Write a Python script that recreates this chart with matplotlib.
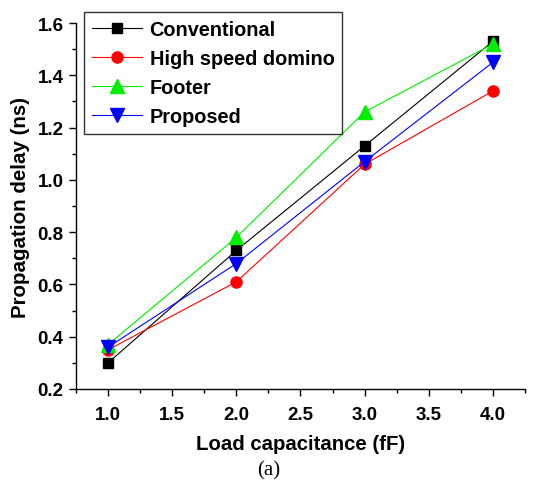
import matplotlib
matplotlib.use("Agg")
import matplotlib.pyplot as plt
from matplotlib.ticker import MultipleLocator

plt.rcParams['font.family'] = ['Liberation Sans', 'DejaVu Sans']

load = [1.0, 2.0, 3.0, 4.0]
conventional = [0.30, 0.73, 1.13, 1.53]
high_speed = [0.35, 0.61, 1.06, 1.34]
footer = [0.37, 0.78, 1.26, 1.52]
proposed = [0.36, 0.68, 1.07, 1.45]

fig = plt.figure(figsize=(5.38, 4.81), dpi=100)
ax = fig.add_axes([0.1413, 0.1892, 0.8345, 0.7608])

lw = 0.8
ax.plot(load, conventional, color='black', marker='s', ms=7, lw=lw, label='Conventional')
ax.plot(load, high_speed, color='red', marker='o', ms=8, lw=lw, label='High speed domino')
ax.plot(load, footer, color='#00ee00', marker='^', ms=10, lw=lw, label='Footer')
ax.plot(load, proposed, color='blue', marker='v', ms=10, lw=lw, label='Proposed')

ax.set_xlim(0.75, 4.25)
ax.set_ylim(0.2, 1.6)
ax.xaxis.set_major_locator(MultipleLocator(0.5))
ax.xaxis.set_minor_locator(MultipleLocator(0.25))
ax.yaxis.set_major_locator(MultipleLocator(0.2))
ax.yaxis.set_minor_locator(MultipleLocator(0.1))
ax.spines['top'].set_visible(False)
ax.spines['right'].set_visible(False)
for s in ['left', 'bottom']:
    ax.spines[s].set_linewidth(1.0)
ax.tick_params(which='major', direction='out', length=5, width=1, labelsize=13.5, pad=4)
ax.tick_params(axis='x', which='major', pad=7)
ax.tick_params(which='minor', direction='out', length=3, width=1)
for lab in ax.get_xticklabels() + ax.get_yticklabels():
    lab.set_fontweight('bold')

ax.set_xlabel('Load capacitance (fF)', fontsize=14.7, fontweight='bold', labelpad=8)
ax.set_ylabel('Propagation delay (ns)', fontsize=14.8, fontweight='bold', labelpad=5)

leg = fig.legend(loc='upper left', bbox_to_anchor=(84/538, 1 - 13/481),
                 prop={'weight': 'bold', 'size': 14.3}, frameon=True, fancybox=False,
                 edgecolor='black', handlelength=2.5, labelspacing=0.5,
                 borderpad=0.4, handletextpad=0.4, borderaxespad=0)
leg.get_frame().set_linewidth(1.0)

fig.text(0.5, 1 - 471/481, '(a)', ha='center', va='center', fontsize=15,
         family=['Liberation Serif', 'DejaVu Serif'])

fig.savefig('out.png', dpi=100)
